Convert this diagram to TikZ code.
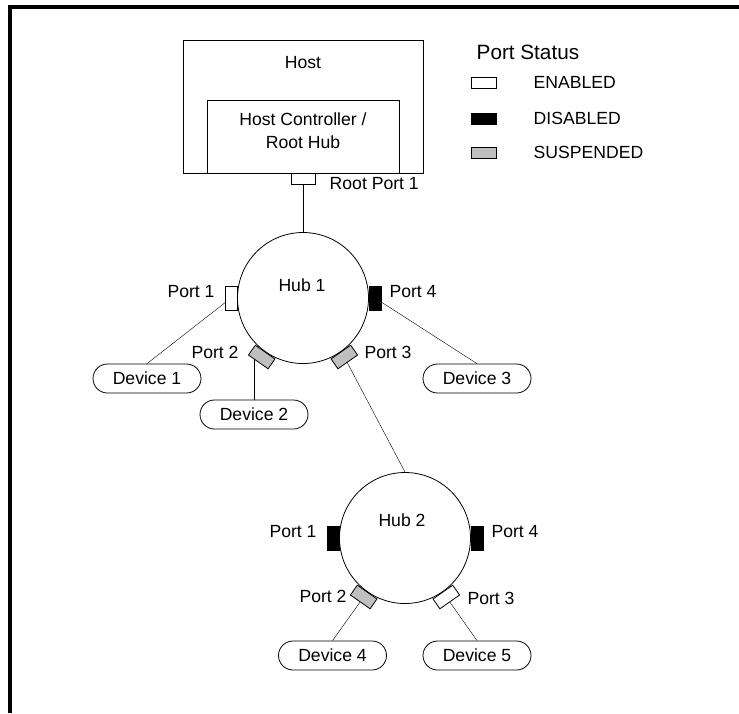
\documentclass[tikz,border=0pt]{standalone}
\usepackage{fontspec}
\setmainfont{Liberation Sans}
\usetikzlibrary{shapes.misc,backgrounds}

\tikzset{
  port/.style={draw,minimum width=12pt,minimum height=24pt,inner sep=0pt},
  enabled/.style={port,fill=white},
  disabled/.style={port,fill=black},
  suspended/.style={port,fill=black!25},
  hub/.style={draw,circle,fill=white,minimum size=131pt,inner sep=0pt},
  device/.style={draw,rounded rectangle,fill=white,minimum width=108pt,minimum height=29pt,inner sep=0pt},
  legendbox/.style={draw,minimum width=25pt,minimum height=11pt,inner sep=0pt},
}

\begin{document}
\begin{tikzpicture}[x=1pt,y=1pt,line width=.8pt,font=\fontsize{17.6}{23}\selectfont]
  \useasboundingbox (0,0) rectangle (739,-713);
  \draw[line width=4pt] (10,-713) -- (10,-7) -- (739,-7);

  \node[draw,minimum width=240,minimum height=133] (host) at (303,-106.5) {};
  \node (hostlbl) at (303,-63) {Host};
  \node[draw,minimum width=192,minimum height=73] (hc) at (303,-136.5) {};
  \node[align=center] (hclbl) at (303,-130.5) {Host Controller /\\Root Hub};
  \node[port,fill=white,minimum width=24,minimum height=11] (rootport) at (303,-178.5) {};
  \node[anchor=west] at (326,-184) {Root Port 1};

  \node[hub] (hub1) at (303,-298) {};
  \node (hub1lbl) at (302,-285) {Hub 1};
  \node[enabled,rotate=180] (h1p1) at ([shift={(180:72)}]hub1.center) {};
  \node[suspended,rotate=235] (h1p2) at ([shift={(235:72)}]hub1.center) {};
  \node[suspended,rotate=305] (h1p3) at ([shift={(305:72)}]hub1.center) {};
  \node[disabled] (h1p4) at ([shift={(0:72)}]hub1.center) {};
  \node at (191,-292) {Port 1};
  \node at (215,-352) {Port 2};
  \node at (388,-352) {Port 3};
  \node at (413,-292) {Port 4};

  \node[device] (dev1) at (147,-378.5) {Device 1};
  \node[device] (dev2) at (254,-414.5) {Device 2};
  \node[device] (dev3) at (477,-378.5) {Device 3};

  \node[hub] (hub2) at (405,-538) {};
  \node (hub2lbl) at (402,-520) {Hub 2};
  \node[disabled,rotate=180] (h2p1) at ([shift={(180:72)}]hub2.center) {};
  \node[suspended,rotate=235] (h2p2) at ([shift={(235:72)}]hub2.center) {};
  \node[enabled,rotate=305] (h2p3) at ([shift={(305:72)}]hub2.center) {};
  \node[disabled] (h2p4) at ([shift={(0:72)}]hub2.center) {};
  \node at (293,-532) {Port 1};
  \node at (323,-596) {Port 2};
  \node at (491,-598) {Port 3};
  \node at (515,-532) {Port 4};

  \node[device] (dev4) at (332.5,-655.5) {Device 4};
  \node[device] (dev5) at (477,-655.5) {Device 5};

  \begin{scope}[on background layer]
    \draw (rootport.center) -- (hub1.north);
    \draw (h1p1.center) -- (dev1.north);
    \draw (dev2.north) -- (dev2.north |- h1p2.center);
    \draw (h1p3.center) -- (hub2.north);
    \draw (h1p4.center) -- (dev3.north);
    \draw (h2p2.center) -- (dev4.north);
    \draw (h2p3.center) -- (dev5.north);
  \end{scope}

  \node[anchor=west,font=\fontsize{20.7}{24}\selectfont] (legend) at (473,-52) {Port Status};
  \node[legendbox,fill=white] (lgen) at (483.5,-82.5) {};
  \node[legendbox,fill=black] (lgdis) at (483.5,-118.5) {};
  \node[legendbox,fill=black!25] (lgsus) at (483.5,-153) {};
  \node[anchor=west] at (530,-82) {ENABLED};
  \node[anchor=west] at (530,-118) {DISABLED};
  \node[anchor=west] at (530,-152) {SUSPENDED};
\end{tikzpicture}
\end{document}
